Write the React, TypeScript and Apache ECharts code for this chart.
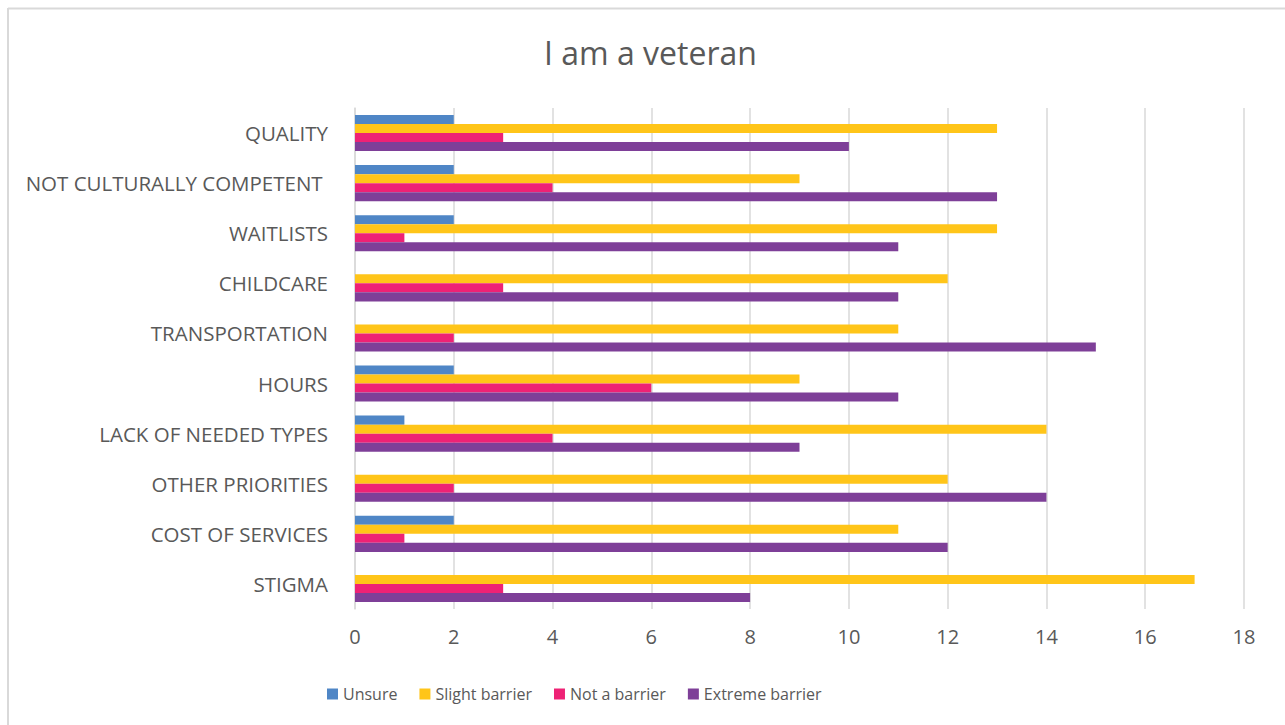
import React, { useEffect, useRef } from "react";
import * as echarts from "echarts";

const categories = [
  "STIGMA",
  "COST OF SERVICES",
  "OTHER PRIORITIES",
  "LACK OF NEEDED TYPES",
  "HOURS",
  "TRANSPORTATION",
  "CHILDCARE",
  "WAITLISTS",
  "NOT CULTURALLY COMPETENT ",
  "QUALITY",
];
const unsure = [0, 2, 0, 1, 2, 0, 0, 2, 2, 2];
const slightBarrier = [17, 11, 12, 14, 9, 11, 12, 13, 9, 13];
const notABarrier = [3, 1, 2, 4, 6, 2, 3, 1, 4, 3];
const extremeBarrier = [8, 12, 14, 9, 11, 15, 11, 11, 13, 10];

const seriesNames = ["Unsure", "Slight barrier", "Not a barrier", "Extreme barrier"];
const seriesColors = ["#4f86c6", "#ffc519", "#ee2275", "#7e3f98"];

const FONT = "'Open Sans', 'Noto Sans', sans-serif";
const TEXT = "#595959";

export default function App() {
  const ref = useRef<HTMLDivElement>(null);
  useEffect(() => {
    if (!ref.current) return;
    const chart = echarts.init(ref.current, null, { renderer: "svg" });
    const values = [unsure, slightBarrier, notABarrier, extremeBarrier];
    chart.setOption({
      animation: false,
      backgroundColor: "#ffffff",
      title: {
        text: "I am a veteran",
        left: 539,
        top: 31,
        textStyle: { fontFamily: FONT, fontSize: 32, fontWeight: "normal", color: TEXT },
      },
      legend: {
        data: seriesNames,
        left: 322,
        top: 681,
        itemWidth: 11,
        itemHeight: 11,
        itemGap: 22,
        icon: "rect",
        textStyle: { fontFamily: FONT, fontSize: 16, color: TEXT },
      },
      grid: { left: 355, right: 41, top: 108, bottom: 116, containLabel: false },
      xAxis: {
        type: "value",
        min: 0,
        max: 18,
        interval: 2,
        axisLine: { show: false },
        axisTick: { show: false },
        axisLabel: { fontFamily: FONT, fontSize: 20, color: TEXT, margin: 17 },
        splitLine: { lineStyle: { color: "#d9d9d9", width: 1.5 } },
      },
      yAxis: {
        type: "category",
        data: categories,
        axisLine: { show: true, lineStyle: { color: "#d9d9d9", width: 1.5 } },
        axisTick: { show: false },
        axisLabel: { fontFamily: FONT, fontSize: 20.5, color: TEXT, margin: 27 },
      },
      series: seriesNames.map((name, i) => ({
        name,
        type: "bar",
        data: values[i],
        barGap: "0%",
        barCategoryGap: "28%",
        itemStyle: { color: seriesColors[i] },
      })),
      graphic: [
        { type: "line", shape: { x1: 8, y1: 8.5, x2: 1285, y2: 8.5 }, style: { stroke: "#d9d9d9", lineWidth: 2 } },
        { type: "line", shape: { x1: 8, y1: 8, x2: 8, y2: 725 }, style: { stroke: "#d9d9d9", lineWidth: 2 } },
      ],
    });
    return () => chart.dispose();
  }, []);
  return (
    <div
      ref={ref}
      style={{ position: "fixed", left: 0, top: 0, width: 1285, height: 725, background: "#fff" }}
    />
  );
}
